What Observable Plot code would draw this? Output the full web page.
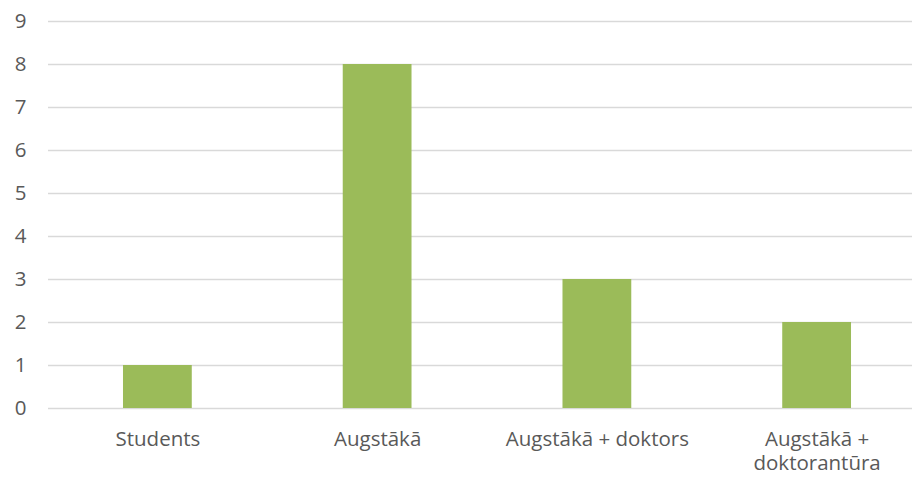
<!DOCTYPE html>
<html><head><meta charset="utf-8">
<script src="https://cdn.jsdelivr.net/npm/d3@7"></script>
<script src="https://cdn.jsdelivr.net/npm/@observablehq/plot@0.6"></script>
<style>body{margin:0;background:#fff;overflow:hidden;}</style>
</head><body><div id="chart"></div>
<script>
const categories = ["Students", "Augstākā", "Augstākā + doktors", "Augstākā + doktorantūra"];
const values = [1, 8, 3, 2];
const tickLabels = ["Students", "Augstākā", "Augstākā + doktors", "Augstākā +\ndoktorantūra"];
const yTicks = [0, 1, 2, 3, 4, 5, 6, 7, 8, 9];

const data = categories.map((c, i) => ({category: c, value: values[i]}));

const chart = Plot.plot({
  width: 912,
  height: 478,
  marginTop: 21,
  marginBottom: 70,
  marginLeft: 48,
  marginRight: 0,
  style: {fontFamily: "'Open Sans', sans-serif", fontSize: "20.5px", color: "#595959", background: "#fff"},
  x: {domain: categories, range: [47.5, 926.5], paddingInner: 0.687, paddingOuter: 0.3435, round: false, label: null},
  y: {domain: [0, 9], label: null},
  marks: [
    Plot.ruleY(yTicks, {stroke: "#d9d9d9", strokeWidth: 1.5}),
    Plot.barY(data, {x: "category", y: "value", fill: "#9bbb59"}),
    Plot.axisX({tickSize: 0, tickPadding: 21, lineHeight: 1.16,
      tickFormat: d => tickLabels[categories.indexOf(d)], label: null}),
    Plot.axisY({ticks: yTicks, tickSize: 0, tickPadding: 22, label: null})
  ]
});
document.getElementById("chart").appendChild(chart);
</script>
</body></html>
